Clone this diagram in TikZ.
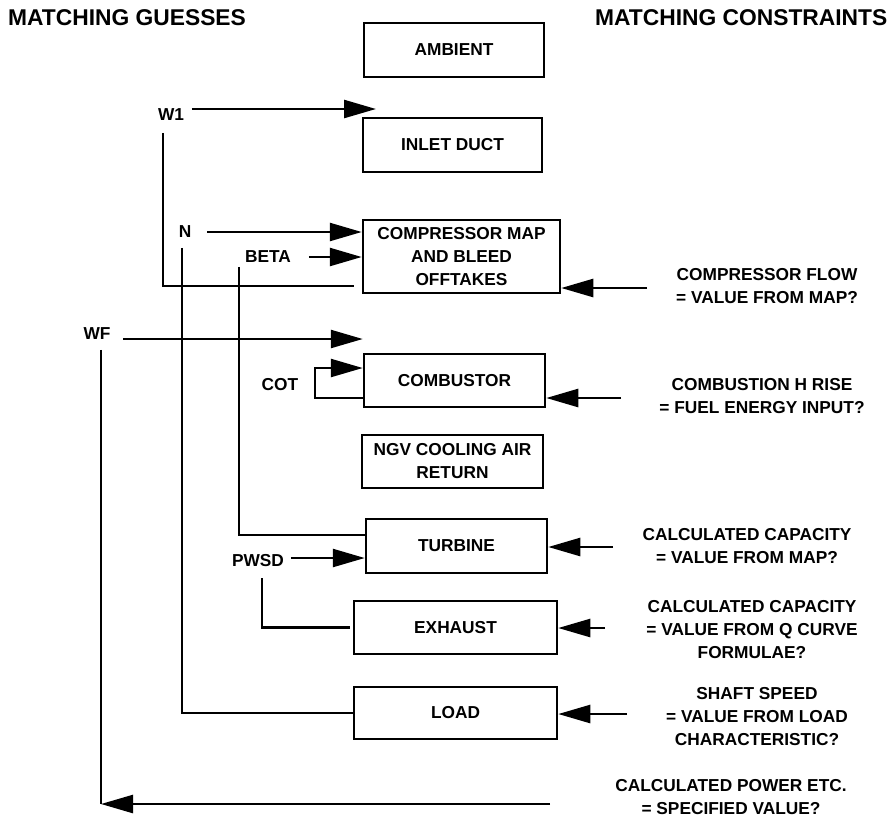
\documentclass[tikz,border=0pt]{standalone}
\usepackage{fontspec}
\setmainfont{Liberation Sans}
\usetikzlibrary{arrows.meta,calc}
\newcommand\lblfont{\bfseries\fontsize{17.3}{23}\selectfont}
\begin{document}
\begin{tikzpicture}[x=1pt,y=-1pt,
  wire/.style={line width=2.5pt},
  arr/.style={wire,-{Triangle[length=32pt,width=18pt]}},
  block/.style={draw,line width=2.5pt,align=center,inner sep=0pt,font=\lblfont},
  tag/.style={inner sep=0pt,outer sep=0pt,font=\lblfont},
  note/.style={inner sep=0pt,outer sep=0pt,align=center,font=\lblfont},
  head/.style={inner sep=0pt,anchor=base west,font=\bfseries\fontsize{22.8}{27}\selectfont}]
\fill[white] (0,0) rectangle (893,820);
\useasboundingbox (0,0) rectangle (893,820);

% column headings
\node[head] (guess) at (8,25) {MATCHING GUESSES};
\node[head] (cons) at (595,25) {MATCHING CONSTRAINTS};

% engine components
\node[block,minimum width=180pt,minimum height=54pt] (amb)   at (454,50)      {AMBIENT};
\node[block,minimum width=179pt,minimum height=54pt] (inlet) at (452.5,145)   {INLET DUCT};
\node[block,minimum width=197pt,minimum height=73pt] (comp)  at (461.5,256.5) {COMPRESSOR MAP\\AND BLEED\\OFFTAKES};
\node[block,minimum width=181pt,minimum height=53pt] (comb)  at (454.5,380.5) {COMBUSTOR};
\node[block,minimum width=181pt,minimum height=53pt] (ngv)   at (452.5,461.5) {NGV COOLING AIR\\RETURN};
\node[block,minimum width=181pt,minimum height=54pt] (turb)  at (456.5,546)   {TURBINE};
\node[block,minimum width=203pt,minimum height=53pt] (exh)   at (455.5,627.5) {EXHAUST};
\node[block,minimum width=203pt,minimum height=52pt] (load)  at (455.5,713)   {LOAD};

% guessed variables
\node[tag] (w1)   at (171,115) {W1};
\node[tag] (n)    at (185,232) {N};
\node[tag] (beta) at (268,257) {BETA};
\node[tag] (wf)   at (97,334)  {WF};
\node[tag] (cot)  at (280,385) {COT};
\node[tag] (pwsd) at (258,561) {PWSD};

% matching constraints
\node[note] (c1) at (767,286)   {COMPRESSOR FLOW\\= VALUE FROM MAP?};
\node[note] (c2) at (762,396.5) {COMBUSTION H RISE\\= FUEL ENERGY INPUT?};
\node[note] (c3) at (747,546.5) {CALCULATED CAPACITY\\= VALUE FROM MAP?};
\node[note] (c4) at (752,630)   {CALCULATED CAPACITY\\= VALUE FROM Q CURVE\\FORMULAE?};
\node[note] (c5) at (757,717)   {SHAFT SPEED\\= VALUE FROM LOAD\\CHARACTERISTIC?};
\node[note] (c6) at (731,797.5) {CALCULATED POWER ETC.\\= SPECIFIED VALUE?};

% free ends of the connectors
\coordinate (w1tip) at (376,109);
\coordinate (wf0) at ($(wf.east)+(13,5)$);
\coordinate (p0) at ($(pwsd.east)+(7,-3)$);
\coordinate (k1) at (647,288);
\coordinate (k2) at (621,398);
\coordinate (k3) at (613,547);
\coordinate (k4) at (605,628);
\coordinate (k5) at (627,714);
\coordinate (k6) at (550,804);
\coordinate (wfdown) at ($(wf.south)+(4,10)$);

% guesses fed into the components
\draw[arr] ($(w1tip -| w1.east)+(8,0)$) -- (w1tip);
\draw[wire] ($(w1.south)+(-8,12)$) |- ($(comp.west)+(-8,29.5)$);
\draw[arr] ($(n.east)+(16,0)$) -- (n.east -| comp.west);
\draw[wire] ($(n.south)+(-3,10)$) |- (load.west);
\draw[arr] ($(beta.east)+(18,0)$) -- (beta.east -| comp.west);
\draw[wire] ($(beta.south)+(-29,4)$) |- ($(turb.west)+(0,-11)$);
\draw[arr] (wf0) -- (wf0 -| comb.west);
\draw[arr] ($(comb.west)+(0,17.5)$) -- ++(-48,0) -- ++(0,-30) -- ($(comb.west)+(0,-12.5)$);
\draw[arr] (p0) -- (p0 -| turb.west);
\draw[wire] ($(pwsd.south)+(4,11)$) |- ($(exh.west)+(-3,0)$);

% constraints checked against the components
\draw[arr] (k1) -- (k1 -| comp.east);
\draw[arr] (k2) -- (k2 -| comb.east);
\draw[arr] (k3) -- (k3 -| turb.east);
\draw[arr] (k4) -- (k4 -| exh.east);
\draw[arr] (k5) -- (k5 -| load.east);
\draw[wire] (wfdown) -- (wfdown |- k6);
\draw[arr] (k6) -- (k6 -| wfdown);
\end{tikzpicture}
\end{document}
